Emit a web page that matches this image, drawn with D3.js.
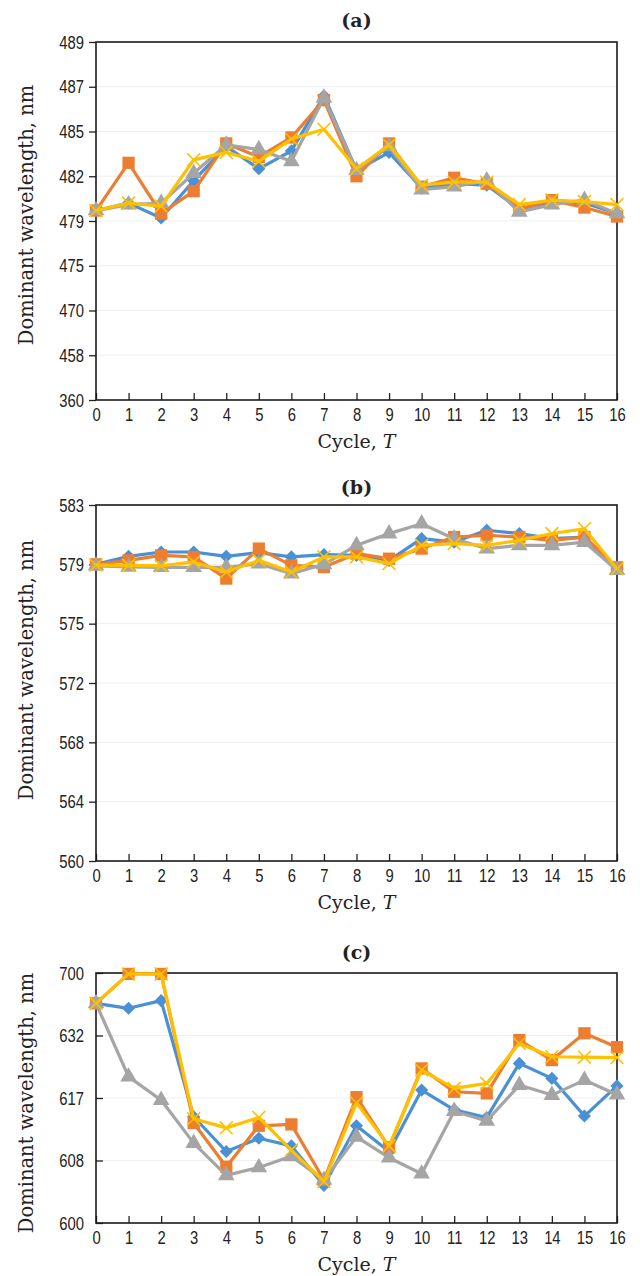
<!DOCTYPE html>
<html>
<head>
<meta charset="utf-8">
<script src="https://cdn.jsdelivr.net/npm/d3@7"></script>
<style>
  html, body { margin: 0; padding: 0; background: #fff; }
  svg { display: block; }
  .tick-label { font-family: "Liberation Sans", Arial, sans-serif; font-size: 19px; fill: #222; }
  .serif { font-family: "DejaVu Serif", "Liberation Serif", serif; fill: #222; }
</style>
</head>
<body>
<svg id="chart" width="640" height="1276"></svg>
<script>
// cycles on the x axis
var cycles = d3.range(0, 17);
var seriesNames = ["s1", "s2", "s3", "s4"];
var colors = ["#4a90d4", "#ed7d31", "#a5a5a5", "#ffc000"];

// panel (a)
var ticksA = [360, 458, 470, 475, 479, 482, 485, 487, 489];
var a1 = [479.7, 480.2, 479.2, 481.7, 484.0, 482.5, 483.7, 486.6, 482.4, 483.6, 481.2, 481.5, 481.4, 479.8, 480.3, 480.2, 479.5];
var a2 = [479.7, 482.9, 479.5, 481.0, 484.2, 483.3, 484.6, 486.4, 482.0, 484.2, 481.3, 481.9, 481.5, 479.8, 480.4, 479.9, 479.3];
var a3 = [479.7, 480.1, 480.2, 482.2, 484.1, 483.8, 483.0, 486.5, 482.4, 484.0, 481.1, 481.3, 481.7, 479.6, 480.1, 480.4, 479.5];
var a4 = [479.7, 480.2, 480.0, 483.1, 483.6, 483.0, 484.5, 485.1, 482.5, 484.1, 481.4, 481.6, 481.6, 480.1, 480.4, 480.3, 480.1];

// panel (b)
var ticksB = [560, 564, 568, 572, 575, 579, 583];
var b1 = [579.0, 579.54, 579.83, 579.83, 579.54, 579.79, 579.5, 579.65, 579.6, 579.27, 580.73, 580.5, 581.3, 581.07, 580.73, 580.84, 578.7];
var b2 = [579.0, 579.27, 579.6, 579.5, 578.04, 580.06, 578.93, 578.82, 579.72, 579.38, 580.06, 580.84, 580.96, 580.84, 580.62, 580.84, 578.8];
var b3 = [578.9, 578.82, 578.8, 578.8, 578.8, 579.04, 578.37, 579.0, 580.28, 581.07, 581.74, 580.73, 580.06, 580.28, 580.28, 580.5, 578.6];
var b4 = [578.95, 578.93, 578.9, 579.16, 578.48, 579.27, 578.48, 579.5, 579.5, 579.05, 580.28, 580.4, 580.28, 580.62, 581.07, 581.4, 578.7];

// panel (c)
var ticksC = [600, 608, 617, 632, 700];
var c1 = [667, 661.6, 669.9, 614.3, 609.3, 611.2, 610.1, 604.8, 613.0, 609.3, 618.9, 615.3, 614.2, 625.3, 621.7, 614.4, 619.9];
var c2 = [667, 699, 699, 613.4, 607.2, 613.0, 613.2, 605.5, 617.2, 609.9, 624.1, 618.5, 618.1, 630.9, 626.1, 634.4, 629.2];
var c3 = [667, 622.1, 616.7, 610.5, 606.1, 607.1, 608.6, 605.5, 611.4, 608.4, 606.3, 615.1, 613.7, 620.1, 617.7, 621.3, 617.8];
var c4 = [667, 699, 699, 614.0, 612.7, 614.2, 609.5, 605.3, 616.3, 610.1, 623.7, 619.3, 620.5, 630.1, 626.9, 626.8, 626.7];

var svg = d3.select("#chart");
var x = d3.scaleLinear().domain([0, 16]).range([96, 617]);
var narrow = 0.78; // squeeze tick digits like a condensed face

var symbols = [
  d3.symbol().type(d3.symbolDiamond2).size(110),
  d3.symbol().type(d3.symbolSquare).size(150),
  d3.symbol().type(d3.symbolTriangle).size(120),
  d3.symbol().type(d3.symbolX).size(110)
];

function squeeze(sel) {
  sel.attr("class", "tick-label").attr("font-size", null).attr("font-family", null)
    .each(function() {
      var t = d3.select(this), x0 = +t.attr("x") || 0;
      t.attr("x", x0 / narrow).attr("transform", "scale(" + narrow + ",1)");
    });
}

function panel(cfg) {
  var g = svg.append("g");
  // evenly spaced, uneven tick values -> polylinear scale
  var step = (cfg.bottom - cfg.top) / (cfg.ticks.length - 1);
  var y = d3.scaleLinear()
    .domain(cfg.ticks)
    .range(cfg.ticks.map(function(d, i) { return cfg.bottom - i * step; }));

  // faint gridlines
  g.selectAll("line.grid").data(cfg.ticks.slice(1, -1)).enter().append("line")
    .attr("x1", x(0)).attr("x2", x(16))
    .attr("y1", function(d) { return y(d); }).attr("y2", function(d) { return y(d); })
    .attr("stroke", "#efefef").attr("stroke-width", 1);

  var yAxis = d3.axisLeft(y).tickValues(cfg.ticks).tickSize(cfg.inner ? -7 : 7).tickPadding(cfg.inner ? 12 : 5);
  var ya = g.append("g").attr("transform", "translate(" + x(0) + ",0)").call(yAxis);
  ya.select(".domain").remove();
  ya.selectAll("line").attr("stroke", "#222").attr("stroke-width", 1.3);
  ya.selectAll("text").call(squeeze);

  var xAxis = d3.axisBottom(x).tickValues(cycles).tickSize(-7).tickPadding(8);
  var xa = g.append("g").attr("transform", "translate(0," + cfg.bottom + ")").call(xAxis);
  xa.select(".domain").remove();
  xa.selectAll("line").attr("stroke", "#222").attr("stroke-width", 1.3);
  xa.selectAll("text").call(squeeze);

  g.append("rect")
    .attr("x", x(0)).attr("y", cfg.top)
    .attr("width", x(16) - x(0)).attr("height", cfg.bottom - cfg.top)
    .attr("fill", "none").attr("stroke", "#1a1a1a").attr("stroke-width", 1.6);

  var line = d3.line().x(function(d, i) { return x(cycles[i]); }).y(function(d) { return y(d); });

  cfg.series.forEach(function(vals, k) {
    var s = g.append("g").attr("class", "series-" + seriesNames[k]);
    s.append("path").datum(vals).attr("d", line)
      .attr("fill", "none").attr("stroke", colors[k]).attr("stroke-width", 3.2)
      .attr("stroke-linejoin", "round");
    s.selectAll("path.m").data(vals).enter().append("path")
      .attr("class", "m")
      .attr("transform", function(d, i) { return "translate(" + x(cycles[i]) + "," + y(d) + ")"; })
      .attr("d", symbols[k])
      .attr("fill", k === 3 ? "none" : colors[k])
      .attr("stroke", colors[k])
      .attr("stroke-width", k === 3 ? 1.6 : 0);
  });

  var cx = (x(0) + x(16)) / 2;
  g.append("text").attr("class", "serif")
    .attr("x", cx).attr("y", cfg.titleY).attr("text-anchor", "middle").attr("dy", "0.35em")
    .attr("font-size", 19).attr("font-weight", "bold").text(cfg.title);

  var xl = g.append("text").attr("class", "serif")
    .attr("x", cx).attr("y", cfg.bottom + 41).attr("text-anchor", "middle").attr("dy", "0.35em")
    .attr("font-size", 19);
  xl.append("tspan").text("Cycle, ");
  xl.append("tspan").attr("font-style", "italic").text("T");

  g.append("text").attr("class", "serif")
    .attr("transform", "translate(26," + cfg.labelY + ") rotate(-90)")
    .attr("text-anchor", "middle").attr("dy", "0.35em")
    .attr("font-size", 19.5).text("Dominant wavelength, nm");
}

panel({ title: "(a)", titleY: 20, top: 42, bottom: 400, labelY: 215, ticks: ticksA, series: [a1, a2, a3, a4], inner: false });
panel({ title: "(b)", titleY: 487, top: 505, bottom: 861, labelY: 670, ticks: ticksB, series: [b1, b2, b3, b4], inner: false });
panel({ title: "(c)", titleY: 952, top: 973, bottom: 1223, labelY: 1103, ticks: ticksC, series: [c1, c2, c3, c4], inner: true });
</script>
</body>
</html>
